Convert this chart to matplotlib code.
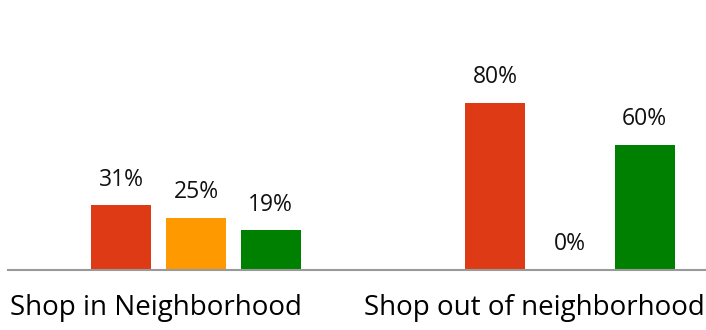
import matplotlib
matplotlib.use("Agg")
import matplotlib.pyplot as plt
import numpy as np

# survey shares per location, one series per bar colour
groups = ["Shop in Neighborhood", "Shop out of neighborhood"]
series_red = [31, 80]
series_orange = [25, 0]
series_green = [19, 60]
colors = ["#DD3A15", "#FF9900", "#008000"]

plt.rcParams['font.family'] = ['Open Sans', 'DejaVu Sans']

W, H = 706, 330
fig = plt.figure(figsize=(W / 100, H / 100), dpi=100)
ax = fig.add_axes([8 / W, 60 / H, 698 / W, 270 / H])

x = np.arange(len(groups))
offset = 0.2
width = 0.16
for i, (vals, c) in enumerate(zip([series_red, series_orange, series_green], colors)):
    pos = x + (i - 1) * offset
    ax.bar(pos, vals, width=width, color=c)
    for p, v in zip(pos, vals):
        ax.text(p, v + 6.5, f"{v}%", ha="center", va="bottom", fontsize=16.5, color="#111111")

ax.set_xlim(-0.503, 1.364)
ax.set_ylim(0, 129.3)
for s in ["top", "right", "left"]:
    ax.spines[s].set_visible(False)
ax.spines["bottom"].set_color("#999999")
ax.spines["bottom"].set_linewidth(1.5)
ax.set_xticks([])
ax.set_yticks([])

# category names under the axis
fig.text(156 / W, 1 - 308 / H, groups[0], ha="center", va="center", fontsize=20)
fig.text(534 / W, 1 - 308 / H, groups[1], ha="center", va="center", fontsize=20)

fig.savefig("out.png", dpi=100)
